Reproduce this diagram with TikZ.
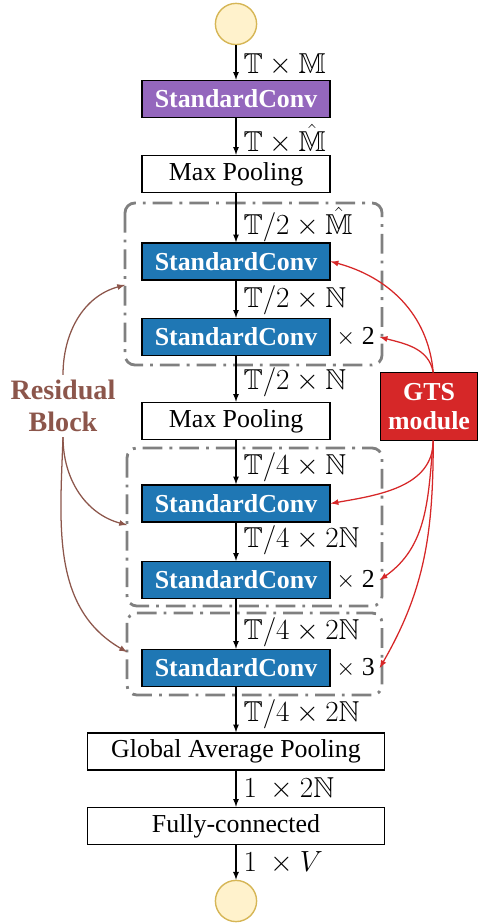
\documentclass[tikz,border=0pt]{standalone}
\usepackage{fontspec}
\setmainfont{Liberation Serif}
\usepackage{amssymb}
\usetikzlibrary{arrows,positioning}

\definecolor{convblue}{RGB}{31,119,180}
\definecolor{convpurple}{RGB}{148,103,189}
\definecolor{gtsred}{RGB}{214,39,40}
\definecolor{resbrown}{RGB}{140,86,75}
\definecolor{ioyellow}{RGB}{255,242,204}
\definecolor{ioborder}{RGB}{214,182,86}

\tikzset{
  layer/.style={draw=black, line width=0.9pt, minimum width=4.7cm, minimum height=0.93cm, inner sep=0pt},
  conv/.style={layer, fill=convblue, text=white, font=\fontsize{18.4}{22}\selectfont\bfseries},
  io/.style={circle, draw=ioborder, fill=ioyellow, line width=1pt, minimum size=1.03cm, inner sep=0pt},
  resblock/.style={draw=gray, line width=2pt, rounded corners=7pt, dash pattern=on 14pt off 5pt on 2pt off 5pt},
  flow/.style={-latex, line width=0.9pt},
  lbl/.style={right, pos=0.58, inner sep=0.5pt, xshift=4.5pt, font=\fontsize{20.5}{24}\selectfont},
  gtsarrow/.style={-latex, gtsred, line width=0.9pt},
  resarrow/.style={-latex, resbrown, line width=0.9pt}
}

\begin{document}
\begin{tikzpicture}[x=0.025cm, y=-0.025cm, font=\fontsize{18.4}{22}\selectfont]
\useasboundingbox (0,0) rectangle (480,924);

% residual blocks (dash-dot frames)
\draw[resblock] (125,203) rectangle (382,365);
\draw[resblock] (127,448) rectangle (382,606);
\draw[resblock] (127,613) rectangle (382,695);
\coordinate (blk1) at (125,285);
\coordinate (blk2) at (127,525);
\coordinate (blk3) at (127,652);

% main stack
\node[io] (in) at (236,24) {};
\node[conv, fill=convpurple] (conv0) at (236,99) {StandardConv};
\node[layer] (pool1) at (236,174) {Max Pooling};
\node[conv] (conv1) at (236,261.5) {StandardConv};
\node[conv] (conv2) at (236,337) {StandardConv};
\node[layer] (pool2) at (236,421) {Max Pooling};
\node[conv] (conv3) at (236,503.5) {StandardConv};
\node[conv] (conv4) at (236,580) {StandardConv};
\node[conv] (conv5) at (236,668) {StandardConv};
\node[layer, minimum width=7.43cm] (gap) at (236,751.5) {Global Average Pooling};
\node[layer, minimum width=7.43cm] (fc) at (236,826) {Fully-connected};
\node[io] (out) at (236,901) {};

\node[right=0.02cm of conv2] (rep2) {$\times$ 2};
\node[right=0.02cm of conv4] (rep4) {$\times$ 2};
\node[right=0.02cm of conv5] (rep5) {$\times$ 3};

\draw[flow] (in) -- node[lbl] {$\mathbb{T}\times\mathbb{M}$} (conv0);
\draw[flow] (conv0) -- node[lbl] {$\mathbb{T}\times\hat{\mathbb{M}}$} (pool1);
\draw[flow] (pool1) -- node[lbl, pos=0.64] {$\mathbb{T}/2\times\hat{\mathbb{M}}$} (conv1);
\draw[flow] (conv1) -- node[lbl, pos=0.52] {$\mathbb{T}/2\times\mathbb{N}$} (conv2);
\draw[flow] (conv2) -- node[lbl] {$\mathbb{T}/2\times\mathbb{N}$} (pool2);
\draw[flow] (pool2) -- node[lbl, pos=0.62] {$\mathbb{T}/4\times\mathbb{N}$} (conv3);
\draw[flow] (conv3) -- node[lbl, pos=0.47] {$\mathbb{T}/4\times2\mathbb{N}$} (conv4);
\draw[flow] (conv4) -- node[lbl, pos=0.66] {$\mathbb{T}/4\times2\mathbb{N}$} (conv5);
\draw[flow] (conv5) -- node[lbl, pos=0.6] {$\mathbb{T}/4\times2\mathbb{N}$} (gap);
\draw[flow] (gap) -- node[lbl, pos=0.5] {$1\ \times2\mathbb{N}$} (fc);
\draw[flow] (fc) -- node[lbl, pos=0.5] {$1\ \times V$} (out);

% side labels
\node[text=resbrown, font=\fontsize{20}{23}\selectfont\bfseries, align=center] (res) at (63,406) {Residual\\Block};
\node[draw=black, line width=0.6pt, fill=gtsred, text=white, font=\fontsize{18.4}{21}\selectfont\bfseries, align=center, minimum width=2.43cm, minimum height=1.68cm, inner sep=0pt] (gts) at (429,406.5) {GTS\\module};

\draw[resarrow] (res.north) to[out=90, in=195] (blk1);
\draw[resarrow] (res.south) to[out=-90, in=165] (blk2);
\draw[resarrow] (res.south) to[out=-92, in=150] (blk3);

\draw[gtsarrow] ([xshift=3pt]gts.north) to[out=95, in=-15] (conv1.east);
\draw[gtsarrow] ([xshift=3pt]gts.north) to[out=100, in=-15] (rep2.east);
\draw[gtsarrow] ([xshift=3pt]gts.south) to[out=-90, in=10] (conv3.east);
\draw[gtsarrow] ([xshift=3pt]gts.south) to[out=-95, in=35] (rep4.east);
\draw[gtsarrow] ([xshift=3pt]gts.south) to[out=-90, in=60] (rep5.east);
\end{tikzpicture}
\end{document}
